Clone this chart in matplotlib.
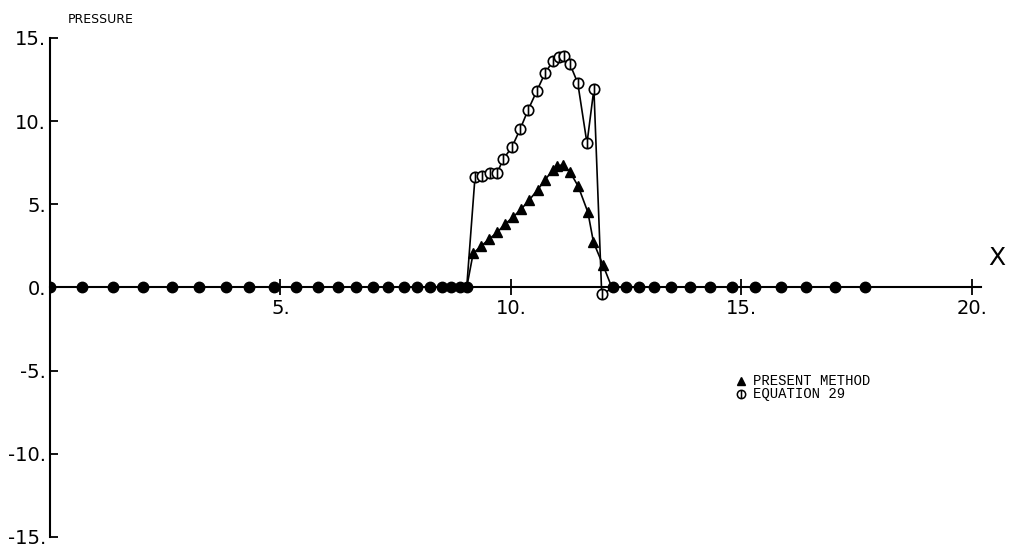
import matplotlib
matplotlib.use("Agg")
import matplotlib.pyplot as plt
from matplotlib.path import Path

# points lying on the zero line (both solutions are zero there)
x_zero_left = [0.0, 0.69, 1.37, 2.02, 2.64, 3.24, 3.82, 4.32, 4.85, 5.34, 5.81,
               6.24, 6.64, 7.00, 7.34, 7.67, 7.96, 8.24, 8.50, 8.71, 8.89, 9.04]
x_zero_right = [12.22, 12.49, 12.78, 13.10, 13.47, 13.88, 14.32, 14.79, 15.29,
                15.87, 16.41, 17.03, 17.68]

# present method
x_present = [9.04, 9.18, 9.36, 9.53, 9.70, 9.87, 10.04, 10.22, 10.40, 10.58, 10.74,
             10.91, 11.01, 11.12, 11.28, 11.46, 11.67, 11.79, 12.00, 12.19]
p_present = [0.0, 2.05, 2.50, 2.92, 3.31, 3.80, 4.22, 4.70, 5.27, 5.87, 6.48,
             7.05, 7.29, 7.38, 6.95, 6.08, 4.52, 2.73, 1.33, 0.0]

# equation 29
x_eq29 = [9.04, 9.22, 9.37, 9.54, 9.70, 9.83, 10.02, 10.20, 10.37, 10.56, 10.74,
          10.91, 11.04, 11.15, 11.28, 11.45, 11.65, 11.80, 11.97, 12.22]
p_eq29 = [0.0, 6.63, 6.69, 6.87, 6.87, 7.71, 8.43, 9.52, 10.66, 11.81, 12.89,
          13.61, 13.86, 13.92, 13.43, 12.29, 8.67, 11.93, -0.42, 0.0]

x_ticks = [5, 10, 15, 20]
x_ticklabels = ["5.", "10.", "15.", "20."]
y_ticks = [-15, -10, -5, 0, 5, 10, 15]
y_ticklabels = ["-15.", "-10.", "-5.", "0.", "5.", "10.", "15."]

# circle with a vertical bar through it, like the plotter symbol
circ_bar = Path.make_compound_path(Path.unit_circle(), Path([[0, -1], [0, 1]]))

fig = plt.figure(figsize=(10.09, 5.52), dpi=100)
ax = fig.add_axes([0.0496, 0.0272, 0.9227, 0.904])

ax.plot(x_zero_left + x_zero_right, [0.0] * (len(x_zero_left) + len(x_zero_right)),
        linestyle="none", marker="o", ms=7.5, color="black", zorder=4)
ax.plot(x_present, p_present, color="black", lw=1.2, marker="^", ms=7,
        markevery=list(range(1, len(x_present) - 1)), zorder=3)
ax.plot(x_eq29, p_eq29, color="black", lw=1.2, marker=circ_bar, ms=7.5,
        mfc="white", mec="black", mew=1.2,
        markevery=list(range(1, len(x_eq29) - 1)), zorder=3)

ax.set_xlim(0, 20.2)
ax.set_ylim(-15, 15)

for side in ["top", "right"]:
    ax.spines[side].set_visible(False)
ax.spines["bottom"].set_position(("data", 0))
ax.spines["left"].set_position(("data", 0))
ax.spines["bottom"].set_linewidth(1.5)
ax.spines["left"].set_linewidth(1.5)

ax.set_xticks(x_ticks)
ax.set_xticklabels(x_ticklabels, fontsize=14)
ax.tick_params(axis="x", direction="inout", length=12, width=1.3, pad=2)
ax.set_yticks(y_ticks)
ax.set_yticklabels(y_ticklabels, fontsize=14)
ax.tick_params(axis="y", direction="in", length=6, width=1.3, pad=3)

ax.text(0.38, 15.75, "PRESSURE", fontsize=9, ha="left", va="bottom", clip_on=False)
ax.text(20.55, 1.8, "X", fontsize=18, ha="center", va="center", clip_on=False)

# legend drawn as plain symbols and text
ax.plot([15.0], [-5.6], marker="^", ms=6, color="black", linestyle="none", clip_on=False)
ax.plot([15.0], [-6.4], marker=circ_bar, ms=6, mfc="white", mec="black", mew=1.1,
        linestyle="none", clip_on=False)
ax.text(15.25, -5.6, "PRESENT METHOD", fontsize=10, family="Liberation Mono", va="center")
ax.text(15.25, -6.4, "EQUATION 29", fontsize=10, family="Liberation Mono", va="center")

fig.savefig("out.png", dpi=100)
